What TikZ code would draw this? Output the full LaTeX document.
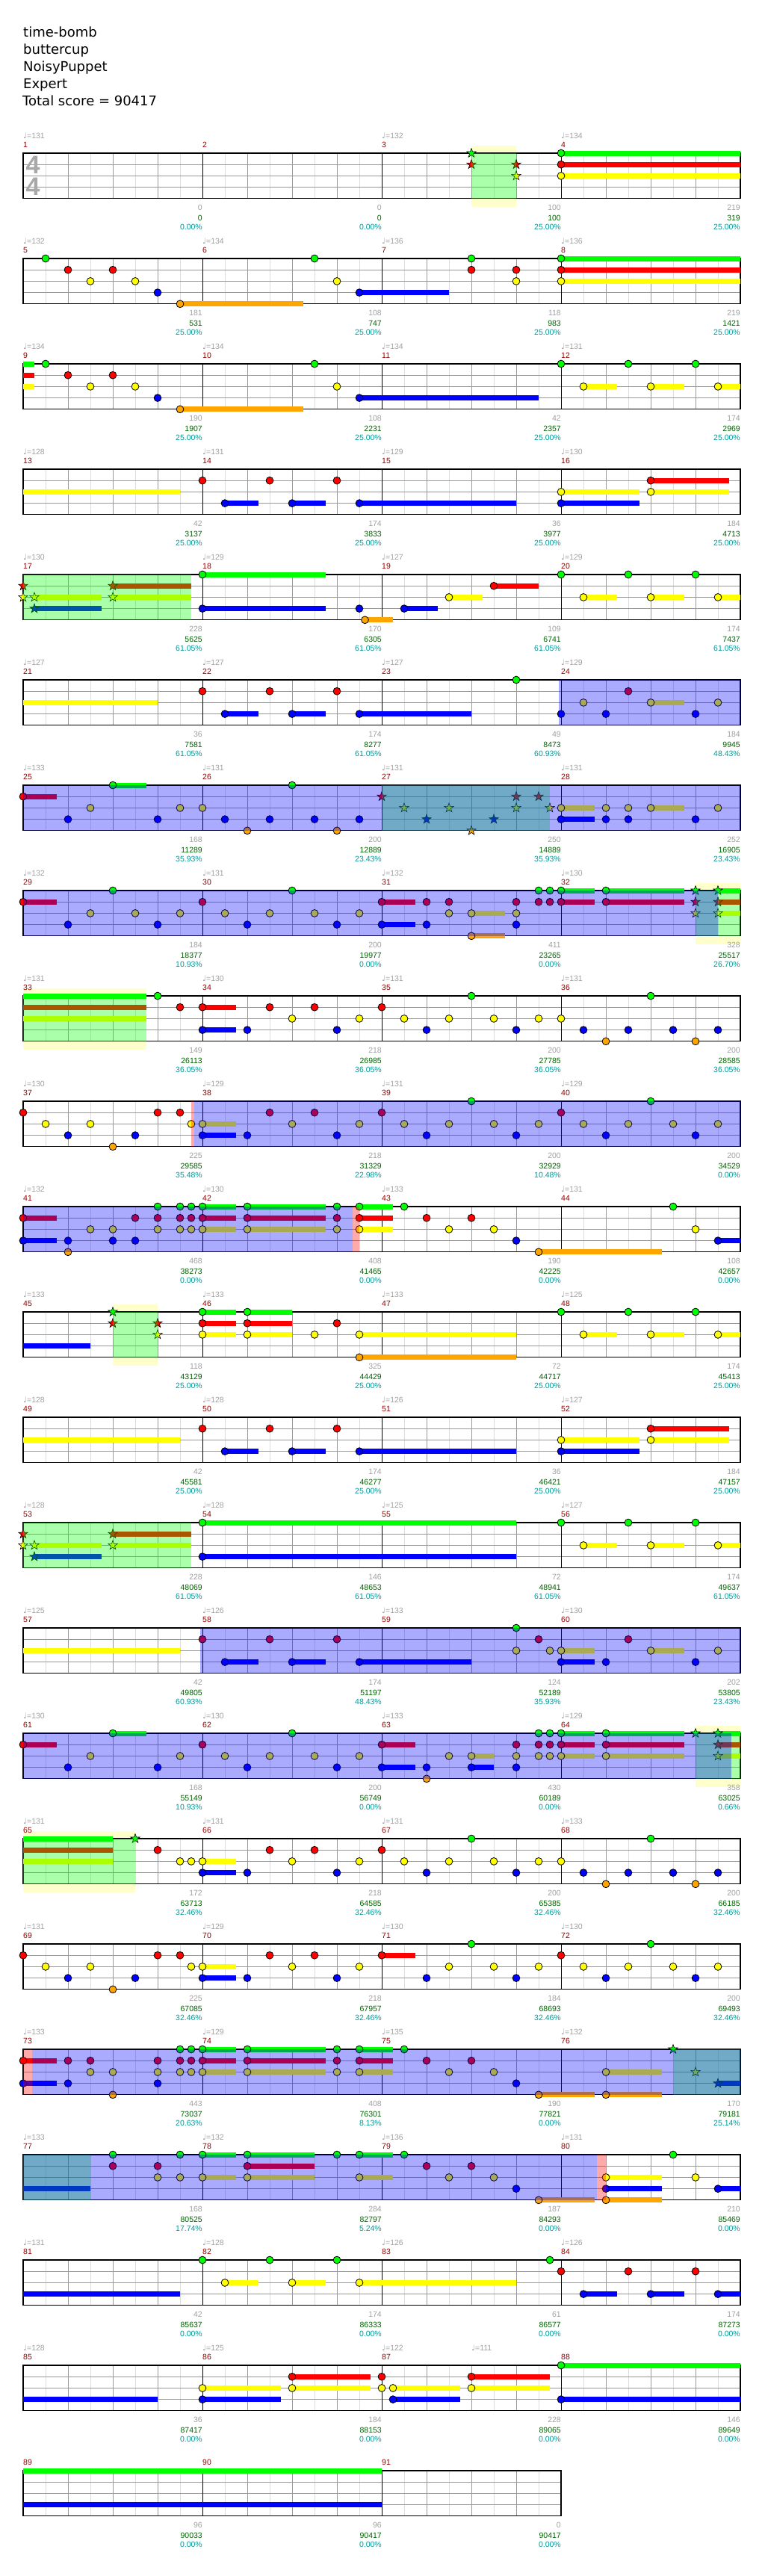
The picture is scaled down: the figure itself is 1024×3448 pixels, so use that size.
\documentclass[tikz,border=0pt]{standalone}
\usepackage{fontspec}
\setmainfont{DejaVu Sans}
\newfontfamily\smallfont{Liberation Sans}
\newfontfamily\symfont{DejaVu Sans}
\usepackage{tikz}

% lane colours (green, red, yellow, blue, orange)
\definecolor{lane0}{RGB}{0,255,0}
\definecolor{lane1}{RGB}{255,0,0}
\definecolor{lane2}{RGB}{255,255,0}
\definecolor{lane3}{RGB}{0,0,255}
\definecolor{lane4}{RGB}{255,165,0}
\definecolor{barred}{RGB}{150,0,0}
\definecolor{labelgray}{RGB}{160,160,160}
\definecolor{scoregreen}{RGB}{0,100,0}
\definecolor{pctteal}{RGB}{0,153,153}
\definecolor{gridgray}{RGB}{153,153,153}
\definecolor{gridlight}{RGB}{221,221,221}
\definecolor{glowyellow}{RGB}{255,255,204}
\definecolor{sigray}{RGB}{168,168,168}

\tikzset{
  gemline/.style={draw=black, line width=0.8pt},
  starline/.style={draw=black, line width=0.6pt},
  titlelabel/.style={font=\fontsize{18}{22}\selectfont, inner sep=0pt},
  barlabel/.style={font=\smallfont\fontsize{10.5}{12}\selectfont, text=barred, inner sep=0pt},
  tempolabel/.style={font=\smallfont\fontsize{10.5}{12}\selectfont, text=labelgray, inner sep=0pt},
  baselabel/.style={font=\smallfont\fontsize{10.5}{12}\selectfont, text=labelgray, inner sep=0pt},
  scorelabel/.style={font=\smallfont\fontsize{10.5}{12}\selectfont, text=scoregreen, inner sep=0pt},
  pctlabel/.style={font=\smallfont\fontsize{10.5}{12}\selectfont, text=pctteal, inner sep=0pt},
  timesig/.style={font=\smallfont\bfseries\fontsize{34}{34}\selectfont, text=sigray, inner sep=0pt}
}

% one row of measures, #1 = length in sixteenths
\newcommand{\staff}[1]{%
  \foreach \k in {2,6,...,#1} {\draw[gridlight, line width=0.8pt] ({31+15*\k},0) -- ({31+15*\k},60.8);}
  \foreach \k in {4,8,...,#1} {\draw[gridgray, line width=0.8pt] ({31+15*\k},0) -- ({31+15*\k},60.8);}
  \foreach \ld in {1,2,3} {\draw[gridgray, line width=0.8pt] (31,{15.2*\ld}) -- ({31+15*#1},{15.2*\ld});}
  \foreach \k in {16,32,...,#1} {\draw[black, line width=0.9pt] ({31+15*\k},0) -- ({31+15*\k},60.8);}
  \draw[black, line width=1.2pt] (31,0) rectangle ({31+15*#1},60.8);
}
% gem, star gem, sustain: lane, position (sixteenths)
\newcommand{\gem}[2]{\filldraw[gemline, fill=lane#1] ({31+15*#2},{15.2*#1}) circle (4.9pt);}
\newcommand{\sgem}[2]{\filldraw[starline, fill=lane#1, shift={({31+15*#2},{15.2*#1})}]
  (90:6.5pt) -- (126:2.6pt) -- (162:6.5pt) -- (198:2.6pt) -- (234:6.5pt) -- (270:2.6pt)
  -- (306:6.5pt) -- (342:2.6pt) -- (18:6.5pt) -- (54:2.6pt) -- cycle;}
\newcommand{\sus}[3]{\draw[line width=7pt, color=lane#1] ({31+15*#2},{15.2*#1}) -- ({31+15*#3},{15.2*#1});}
% tinted stretch over the staff, and the pale band round a phrase
\newcommand{\zone}[3]{\fill[#1, opacity=0.333] ({31+15*#2},0) rectangle ({31+15*#3},60.8);}
\newcommand{\glow}[2]{\fill[glowyellow] ({31+15*#1},-10) rectangle ({31+15*#2},72);
  \fill[white] ({31+15*#1},0) rectangle ({31+15*#2},60.8);}
% measure labels: number, start, tempo, base, score, percent
\newcommand{\mlab}[6]{%
  \node[barlabel, anchor=base west] (bar-#1) at ({31+15*#2},-7.3) {#1};
  \if\relax\detokenize{#3}\relax\else
    \node[tempolabel, anchor=base west] (tempo-#1) at ({31+15*#2},-19.5) {{\symfont ♩}=#3};
  \fi
  \node[baselabel, anchor=base east] (base-#1) at ({31+15*(#2+16)},76.7) {#4};
  \node[scorelabel, anchor=base east] (score-#1) at ({31+15*(#2+16)},90) {#5};
  \node[pctlabel, anchor=base east] (pct-#1) at ({31+15*(#2+16)},102.7) {#6\%};
}

\begin{document}
\begin{tikzpicture}[x=1pt, y=-1pt]
  \useasboundingbox (0,0) rectangle (1024,3448);
  % header
  \node[titlelabel, anchor=base west] (song) at (31,49) {time-bomb};
  \node[titlelabel, anchor=base west] (artist) at (31,72) {buttercup};
  \node[titlelabel, anchor=base west] (charter) at (31,95) {NoisyPuppet};
  \node[titlelabel, anchor=base west] (level) at (31,118) {Expert};
  \node[titlelabel, anchor=base west] (total) at (30,141) {Total score = 90417};

  % measures 1-4
  \begin{scope}[shift={(0,205)}]
    \glow{40}{44}
    \staff{64}
    \node[timesig] (sig-top) at (44,16) {4};
    \node[timesig] (sig-bot) at (44,45) {4};
    \foreach \ld in {0,1,2} {\sus{\ld}{48}{64}}
    \foreach \ld/\ps in {0/40,1/40,1/44,2/44} {\sgem{\ld}{\ps}}
    \foreach \ld in {0,1,2} {\gem{\ld}{48}}
    \zone{lane0}{40}{44}
    \mlab{1}{0}{131}{0}{0}{0.00}
    \mlab{2}{16}{}{0}{0}{0.00}
    \mlab{3}{32}{132}{100}{100}{25.00}
    \mlab{4}{48}{134}{219}{319}{25.00}
  \end{scope}

  % measures 5-8
  \begin{scope}[shift={(0,346)}]
    \staff{64}
    \foreach \ld/\pa/\pb in {4/14/25,3/30/38,0/48/64,1/48/64,2/48/64} {\sus{\ld}{\pa}{\pb}}
    \foreach \ld/\ps in {0/2,1/4,2/6,1/8,2/10,3/12,4/14,0/26,2/28,3/30,0/40,1/40,1/44,2/44,0/48,1/48,2/48} {\gem{\ld}{\ps}}
    \mlab{5}{0}{132}{181}{531}{25.00}
    \mlab{6}{16}{134}{108}{747}{25.00}
    \mlab{7}{32}{136}{118}{983}{25.00}
    \mlab{8}{48}{136}{219}{1421}{25.00}
  \end{scope}

  % measures 9-12
  \begin{scope}[shift={(0,487)}]
    \staff{64}
    \foreach \ld/\pa/\pb in {0/0/1,1/0/1,2/0/1,4/14/25,3/30/46,2/50/53,2/56/59,2/62/64} {\sus{\ld}{\pa}{\pb}}
    \foreach \ld/\ps in {0/2,1/4,2/6,1/8,2/10,3/12,4/14,0/26,2/28,3/30,0/48,2/50,0/54,2/56,0/60,2/62} {\gem{\ld}{\ps}}
    \mlab{9}{0}{134}{190}{1907}{25.00}
    \mlab{10}{16}{134}{108}{2231}{25.00}
    \mlab{11}{32}{134}{42}{2357}{25.00}
    \mlab{12}{48}{131}{174}{2969}{25.00}
  \end{scope}

  % measures 13-16
  \begin{scope}[shift={(0,628)}]
    \staff{64}
    \foreach \ld/\pa/\pb in {2/0/14,3/18/21,3/24/27,3/30/44,2/48/55,3/48/55,1/56/63,2/56/63} {\sus{\ld}{\pa}{\pb}}
    \foreach \ld/\ps in {1/16,3/18,1/22,3/24,1/28,3/30,2/48,3/48,1/56,2/56} {\gem{\ld}{\ps}}
    \mlab{13}{0}{128}{42}{3137}{25.00}
    \mlab{14}{16}{131}{174}{3833}{25.00}
    \mlab{15}{32}{129}{36}{3977}{25.00}
    \mlab{16}{48}{130}{184}{4713}{25.00}
  \end{scope}

  % measures 17-20
  \begin{scope}[shift={(0,769)}]
    \staff{64}
    \foreach \ld/\pa/\pb in {2/1/7,3/1/7,1/8/15,2/8/15,0/16/27,3/16/27,4/30.5/33,3/34/37,2/38/41,1/42/46,2/50/53,2/56/59,2/62/64} {\sus{\ld}{\pa}{\pb}}
    \foreach \ld/\ps in {1/0,2/0,2/1,3/1,1/8,2/8} {\sgem{\ld}{\ps}}
    \foreach \ld/\ps in {0/16,3/16,3/30,4/30.5,3/34,2/38,1/42,0/48,2/50,0/54,2/56,0/60,2/62} {\gem{\ld}{\ps}}
    \zone{lane0}{0}{15}
    \mlab{17}{0}{130}{228}{5625}{61.05}
    \mlab{18}{16}{129}{170}{6305}{61.05}
    \mlab{19}{32}{127}{109}{6741}{61.05}
    \mlab{20}{48}{129}{174}{7437}{61.05}
  \end{scope}

  % measures 21-24
  \begin{scope}[shift={(0,910)}]
    \staff{64}
    \foreach \ld/\pa/\pb in {2/0/12,3/18/21,3/24/27,3/30/40,2/56/59} {\sus{\ld}{\pa}{\pb}}
    \foreach \ld/\ps in {1/16,3/18,1/22,3/24,1/28,3/30,0/44,3/48,2/50,3/52,1/54,2/56,3/60,2/62} {\gem{\ld}{\ps}}
    \zone{lane3}{47.8}{64}
    \mlab{21}{0}{127}{36}{7581}{61.05}
    \mlab{22}{16}{127}{174}{8277}{61.05}
    \mlab{23}{32}{127}{49}{8473}{60.93}
    \mlab{24}{48}{129}{184}{9945}{48.43}
  \end{scope}

  % measures 25-28
  \begin{scope}[shift={(0,1051)}]
    \staff{64}
    \foreach \ld/\pa/\pb in {1/0/3,0/8/11,2/48/51,3/48/51,2/56/59} {\sus{\ld}{\pa}{\pb}}
    \foreach \ld/\ps in {1/0,3/4,2/6,0/8,3/12,2/14,2/16,3/18,4/20,3/22,0/24,3/26,4/28,3/30,2/48,3/48,2/52,3/52,2/54,3/54,2/56,3/60,2/62} {\gem{\ld}{\ps}}
    \foreach \ld/\ps in {1/32,2/34,3/36,2/38,4/40,3/42,1/44,2/44,1/46,2/47} {\sgem{\ld}{\ps}}
    \zone{lane0}{32}{47}
    \zone{lane3}{0}{64}
    \mlab{25}{0}{133}{168}{11289}{35.93}
    \mlab{26}{16}{131}{200}{12889}{23.43}
    \mlab{27}{32}{131}{250}{14889}{35.93}
    \mlab{28}{48}{131}{252}{16905}{23.43}
  \end{scope}

  % measures 29-32
  \begin{scope}[shift={(0,1192)}]
    \glow{60}{64}
    \staff{64}
    \foreach \ld/\pa/\pb in {1/0/3,1/32/35,3/32/35,2/40/43,4/40/43,0/48/51,1/48/51,0/52/59,1/52/59,0/62/64,1/62/64,2/62/64} {\sus{\ld}{\pa}{\pb}}
    \foreach \ld/\ps in {1/0,3/4,2/6,0/8,2/10,3/12,2/14,1/16,2/18,3/20,2/22,0/24,2/26,3/28,2/30,1/32,3/32,1/36,3/36,1/38,2/38,2/40,4/40,1/44,2/44,3/44,0/46,1/46,0/47,1/47,0/48,1/48,0/52,1/52} {\gem{\ld}{\ps}}
    \foreach \ld/\ps in {0/60,1/60,2/60,0/62,1/62,2/62} {\sgem{\ld}{\ps}}
    \zone{lane0}{60}{64}
    \zone{lane3}{0}{62}
    \mlab{29}{0}{132}{184}{18377}{10.93}
    \mlab{30}{16}{131}{200}{19977}{0.00}
    \mlab{31}{32}{132}{411}{23265}{0.00}
    \mlab{32}{48}{130}{328}{25517}{26.70}
  \end{scope}

  % measures 33-36
  \begin{scope}[shift={(0,1333)}]
    \glow{0}{11}
    \staff{64}
    \foreach \ld/\pa/\pb in {0/0/11,1/0/11,2/0/11,1/16/19,3/16/19} {\sus{\ld}{\pa}{\pb}}
    \foreach \ld/\ps in {0/12,1/14,1/16,3/16,3/20,1/22,2/24,1/26,3/28,2/30,1/32,2/34,3/36,2/38,0/40,2/42,3/44,2/46,2/48,3/50,4/52,3/54,0/56,3/58,4/60,3/62} {\gem{\ld}{\ps}}
    \zone{lane0}{0}{11}
    \mlab{33}{0}{131}{149}{26113}{36.05}
    \mlab{34}{16}{130}{218}{26985}{36.05}
    \mlab{35}{32}{131}{200}{27785}{36.05}
    \mlab{36}{48}{131}{200}{28585}{36.05}
  \end{scope}

  % measures 37-40
  \begin{scope}[shift={(0,1474)}]
    \staff{64}
    \foreach \ld/\pa/\pb in {2/16/19,3/16/19} {\sus{\ld}{\pa}{\pb}}
    \foreach \ld/\ps in {1/0,2/2,3/4,2/6,4/8,3/10,1/12,1/14,2/15,2/16,3/16,3/20,1/22,2/24,1/26,3/28,2/30,1/32,2/34,3/36,2/38,0/40,2/42,3/44,2/46,1/48,2/50,3/52,2/54,0/56,2/58,3/60,2/62} {\gem{\ld}{\ps}}
    \zone{lane1}{15}{15.25}
    \zone{lane3}{15.25}{64}
    \mlab{37}{0}{130}{225}{29585}{35.48}
    \mlab{38}{16}{129}{218}{31329}{22.98}
    \mlab{39}{32}{131}{200}{32929}{10.48}
    \mlab{40}{48}{129}{200}{34529}{0.00}
  \end{scope}

  % measures 41-44
  \begin{scope}[shift={(0,1615)}]
    \staff{64}
    \foreach \ld/\pa/\pb in {1/0/3,3/0/3,0/16/19,1/16/19,2/16/19,0/20/27,1/20/27,2/20/27,0/30/33,1/30/33,2/30/33,4/46/57,3/62/64} {\sus{\ld}{\pa}{\pb}}
    \foreach \ld/\ps in {1/0,3/0,3/4,4/4,2/6,2/8,3/8,1/10,3/10,0/12,1/12,2/12,0/14,1/14,2/14,0/15,1/15,2/15,0/16,1/16,2/16,0/20,1/20,2/20,0/28,1/28,2/28,0/30,1/30,2/30,0/34,1/36,2/38,1/40,2/42,3/44,4/46,0/58,2/60,3/62} {\gem{\ld}{\ps}}
    \zone{lane3}{0}{29.4}
    \zone{lane1}{29.4}{30}
    \mlab{41}{0}{132}{468}{38273}{0.00}
    \mlab{42}{16}{130}{408}{41465}{0.00}
    \mlab{43}{32}{133}{190}{42225}{0.00}
    \mlab{44}{48}{131}{108}{42657}{0.00}
  \end{scope}

  % measures 45-48
  \begin{scope}[shift={(0,1756)}]
    \glow{8}{12}
    \staff{64}
    \foreach \ld/\pa/\pb in {3/0/6,0/16/19,1/16/19,2/16/19,0/20/24,1/20/24,2/20/24,2/30/44,4/30/44,2/50/53,2/56/59,2/62/64} {\sus{\ld}{\pa}{\pb}}
    \foreach \ld/\ps in {0/8,1/8,1/12,2/12} {\sgem{\ld}{\ps}}
    \foreach \ld/\ps in {0/16,1/16,2/16,0/20,1/20,2/20,2/26,1/28,2/30,4/30,0/48,2/50,0/54,2/56,0/60,2/62} {\gem{\ld}{\ps}}
    \zone{lane0}{8}{12}
    \mlab{45}{0}{133}{118}{43129}{25.00}
    \mlab{46}{16}{133}{325}{44429}{25.00}
    \mlab{47}{32}{133}{72}{44717}{25.00}
    \mlab{48}{48}{125}{174}{45413}{25.00}
  \end{scope}

  % measures 49-52
  \begin{scope}[shift={(0,1897)}]
    \staff{64}
    \foreach \ld/\pa/\pb in {2/0/14,3/18/21,3/24/27,3/30/44,2/48/55,3/48/55,1/56/63,2/56/63} {\sus{\ld}{\pa}{\pb}}
    \foreach \ld/\ps in {1/16,3/18,1/22,3/24,1/28,3/30,2/48,3/48,1/56,2/56} {\gem{\ld}{\ps}}
    \mlab{49}{0}{128}{42}{45581}{25.00}
    \mlab{50}{16}{128}{174}{46277}{25.00}
    \mlab{51}{32}{126}{36}{46421}{25.00}
    \mlab{52}{48}{127}{184}{47157}{25.00}
  \end{scope}

  % measures 53-56
  \begin{scope}[shift={(0,2038)}]
    \staff{64}
    \foreach \ld/\pa/\pb in {2/1/7,3/1/7,1/8/15,2/8/15,0/16/44,3/16/44,2/50/53,2/56/59,2/62/64} {\sus{\ld}{\pa}{\pb}}
    \foreach \ld/\ps in {1/0,2/0,2/1,3/1,1/8,2/8} {\sgem{\ld}{\ps}}
    \foreach \ld/\ps in {0/16,3/16,0/48,2/50,0/54,2/56,0/60,2/62} {\gem{\ld}{\ps}}
    \zone{lane0}{0}{15}
    \mlab{53}{0}{128}{228}{48069}{61.05}
    \mlab{54}{16}{128}{146}{48653}{61.05}
    \mlab{55}{32}{125}{72}{48941}{61.05}
    \mlab{56}{48}{127}{174}{49637}{61.05}
  \end{scope}

  % measures 57-60
  \begin{scope}[shift={(0,2179)}]
    \staff{64}
    \foreach \ld/\pa/\pb in {2/0/14,3/18/21,3/24/27,3/30/40,2/48/51,3/48/51,2/56/59} {\sus{\ld}{\pa}{\pb}}
    \foreach \ld/\ps in {1/16,3/18,1/22,3/24,1/28,3/30,0/44,2/44,1/46,2/47,2/48,3/48,3/52,1/54,2/56,3/60,2/62} {\gem{\ld}{\ps}}
    \zone{lane3}{15.8}{64}
    \mlab{57}{0}{125}{42}{49805}{60.93}
    \mlab{58}{16}{126}{174}{51197}{48.43}
    \mlab{59}{32}{133}{124}{52189}{35.93}
    \mlab{60}{48}{130}{202}{53805}{23.43}
  \end{scope}

  % measures 61-64
  \begin{scope}[shift={(0,2320)}]
    \glow{60}{64}
    \staff{64}
    \foreach \ld/\pa/\pb in {1/0/3,0/8/11,1/32/35,3/32/35,2/40/42,3/40/42,0/48/51,1/48/51,2/48/51,0/52/59,1/52/59,2/52/59,0/62/64,1/62/64,2/62/64} {\sus{\ld}{\pa}{\pb}}
    \foreach \ld/\ps in {1/0,3/4,2/6,0/8,3/12,2/14,1/16,2/18,3/20,2/22,0/24,2/26,3/28,2/30,1/32,3/32,3/36,4/36,2/38,2/40,3/40,1/44,2/44,3/44,0/46,1/46,2/46,0/47,1/47,2/47,0/48,1/48,2/48,0/52,1/52,2/52} {\gem{\ld}{\ps}}
    \foreach \ld/\ps in {0/60,0/62,1/62,2/62} {\sgem{\ld}{\ps}}
    \zone{lane0}{60}{64}
    \zone{lane3}{0}{63.2}
    \mlab{61}{0}{130}{168}{55149}{10.93}
    \mlab{62}{16}{130}{200}{56749}{0.00}
    \mlab{63}{32}{133}{430}{60189}{0.00}
    \mlab{64}{48}{129}{358}{63025}{0.66}
  \end{scope}

  % measures 65-68
  \begin{scope}[shift={(0,2461)}]
    \glow{0}{10}
    \staff{64}
    \foreach \ld/\pa/\pb in {0/0/8,1/0/8,2/0/8,2/16/19,3/16/19} {\sus{\ld}{\pa}{\pb}}
    \sgem{0}{10}
    \foreach \ld/\ps in {1/12,2/14,2/15,2/16,3/16,3/20,1/22,2/24,1/26,3/28,2/30,1/32,2/34,3/36,2/38,0/40,2/42,3/44,2/46,2/48,3/50,4/52,3/54,0/56,3/58,4/60,3/62} {\gem{\ld}{\ps}}
    \zone{lane0}{0}{10}
    \mlab{65}{0}{131}{172}{63713}{32.46}
    \mlab{66}{16}{131}{218}{64585}{32.46}
    \mlab{67}{32}{131}{200}{65385}{32.46}
    \mlab{68}{48}{133}{200}{66185}{32.46}
  \end{scope}

  % measures 69-72
  \begin{scope}[shift={(0,2602)}]
    \staff{64}
    \foreach \ld/\pa/\pb in {2/16/19,3/16/19,1/32/35} {\sus{\ld}{\pa}{\pb}}
    \foreach \ld/\ps in {1/0,2/2,3/4,2/6,4/8,3/10,1/12,1/14,2/15,2/16,3/16,3/20,1/22,2/24,1/26,3/28,2/30,1/32,3/36,2/38,0/40,2/42,3/44,2/46,1/48,2/50,3/52,2/54,0/56,2/58,3/60,2/62} {\gem{\ld}{\ps}}
    \mlab{69}{0}{131}{225}{67085}{32.46}
    \mlab{70}{16}{129}{218}{67957}{32.46}
    \mlab{71}{32}{130}{184}{68693}{32.46}
    \mlab{72}{48}{130}{200}{69493}{32.46}
  \end{scope}

  % measures 73-76
  \begin{scope}[shift={(0,2743)}]
    \staff{64}
    \foreach \ld/\pa/\pb in {1/0/3,3/0/3,0/16/19,1/16/19,2/16/19,0/20/27,1/20/27,2/20/27,0/30/33,1/30/33,2/30/33,4/46/51,2/52/57,4/52/57,3/62/64} {\sus{\ld}{\pa}{\pb}}
    \foreach \ld/\ps in {1/0,3/0,1/4,3/4,1/6,2/6,2/8,4/8,1/12,2/12,3/12,0/14,1/14,2/14,0/15,1/15,2/15,0/16,1/16,2/16,0/20,1/20,2/20,0/28,1/28,2/28,0/30,1/30,2/30,0/34,1/36,2/38,1/40,2/42,3/44,4/46,2/52,4/52} {\gem{\ld}{\ps}}
    \foreach \ld/\ps in {0/58,2/60,3/62} {\sgem{\ld}{\ps}}
    \zone{lane1}{0}{0.8}
    \zone{lane0}{58}{64}
    \zone{lane3}{0.8}{64}
    \mlab{73}{0}{133}{443}{73037}{20.63}
    \mlab{74}{16}{129}{408}{76301}{8.13}
    \mlab{75}{32}{135}{190}{77821}{0.00}
    \mlab{76}{48}{132}{170}{79181}{25.14}
  \end{scope}

  % measures 77-80
  \begin{scope}[shift={(0,2884)}]
    \staff{64}
    \foreach \ld/\pa/\pb in {3/0/6,0/16/19,2/16/19,0/20/26,1/20/26,2/20/26,0/30/33,2/30/33,4/46/51,2/52/57,3/52/57,4/52/57,3/62/64} {\sus{\ld}{\pa}{\pb}}
    \foreach \ld/\ps in {0/8,1/8,1/12,2/12,0/14,2/14,0/16,2/16,0/20,1/20,2/20,0/28,0/30,2/30,0/34,1/36,2/38,1/40,2/42,3/44,4/46,2/52,3/52,4/52,0/58,2/60,3/62} {\gem{\ld}{\ps}}
    \zone{lane0}{0}{6}
    \zone{lane3}{0}{51.2}
    \zone{lane1}{51.2}{52}
    \mlab{77}{0}{133}{168}{80525}{17.74}
    \mlab{78}{16}{132}{284}{82797}{5.24}
    \mlab{79}{32}{136}{187}{84293}{0.00}
    \mlab{80}{48}{131}{210}{85469}{0.00}
  \end{scope}

  % measures 81-84
  \begin{scope}[shift={(0,3025)}]
    \staff{64}
    \foreach \ld/\pa/\pb in {3/0/14,2/18/21,2/24/27,2/30/44,3/50/53,3/56/59,3/62/64} {\sus{\ld}{\pa}{\pb}}
    \foreach \ld/\ps in {0/16,2/18,0/22,2/24,0/28,2/30,0/47,1/48,3/50,1/54,3/56,1/60,3/62} {\gem{\ld}{\ps}}
    \mlab{81}{0}{131}{42}{85637}{0.00}
    \mlab{82}{16}{128}{174}{86333}{0.00}
    \mlab{83}{32}{126}{61}{86577}{0.00}
    \mlab{84}{48}{126}{174}{87273}{0.00}
  \end{scope}

  % measures 85-88
  \begin{scope}[shift={(0,3166)}]
    \staff{64}
    \foreach \ld/\pa/\pb in {3/0/12,2/16/23,3/16/23,1/24/31,2/24/31,2/33/39,3/33/39,1/40/47,2/40/47,0/48/64,3/48/64} {\sus{\ld}{\pa}{\pb}}
    \foreach \ld/\ps in {2/16,3/16,1/24,2/24,1/32,2/32,2/33,3/33,1/40,2/40,0/48,3/48} {\gem{\ld}{\ps}}
    \mlab{85}{0}{128}{36}{87417}{0.00}
    \mlab{86}{16}{125}{184}{88153}{0.00}
    \mlab{87}{32}{122}{228}{89065}{0.00}
    \mlab{88}{48}{}{146}{89649}{0.00}
    \node[tempolabel, anchor=base west] (tempo-87b) at ({31+15*40},-19.5) {{\symfont ♩}=111};
  \end{scope}

  % measures 89-91
  \begin{scope}[shift={(0,3307)}]
    \staff{48}
    \foreach \ld in {0,3} {\sus{\ld}{0}{32}}
    \mlab{89}{0}{}{96}{90033}{0.00}
    \mlab{90}{16}{}{96}{90417}{0.00}
    \mlab{91}{32}{}{0}{90417}{0.00}
  \end{scope}
\end{tikzpicture}
\end{document}
